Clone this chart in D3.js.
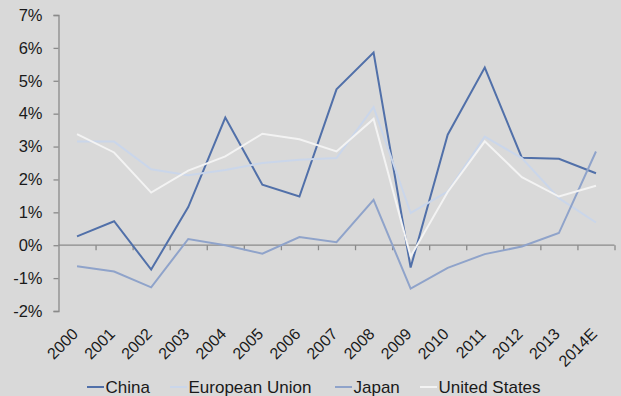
<!DOCTYPE html>
<html>
<head>
<meta charset="utf-8">
<script src="https://cdn.jsdelivr.net/npm/d3@7"></script>
<style>
  html, body { margin: 0; padding: 0; background: #d9d9d9; }
  svg { display: block; font-family: "Liberation Sans", Arial, sans-serif; }
</style>
</head>
<body>
<svg id="chart" width="621" height="396"></svg>
<script>
// Annual inflation, 2000–2014E (%)
const years = ["2000","2001","2002","2003","2004","2005","2006","2007","2008","2009","2010","2011","2012","2013","2014E"];
const china = [0.27, 0.73, -0.74, 1.16, 3.88, 1.84, 1.48, 4.74, 5.86, -0.68, 3.36, 5.40, 2.66, 2.63, 2.19];
const europeanUnion = [3.15, 3.15, 2.31, 2.13, 2.29, 2.50, 2.60, 2.65, 4.20, 0.98, 1.63, 3.30, 2.65, 1.43, 0.69];
const japan = [-0.64, -0.80, -1.28, 0.19, 0.00, -0.26, 0.25, 0.09, 1.38, -1.32, -0.69, -0.27, -0.04, 0.37, 2.85];
const unitedStates = [3.38, 2.82, 1.60, 2.27, 2.70, 3.39, 3.22, 2.85, 3.84, -0.34, 1.62, 3.16, 2.07, 1.48, 1.81];
const yTicks = [-2, -1, 0, 1, 2, 3, 4, 5, 6, 7];

const series = [
  { name: "China", values: china, color: "#5170a9" },
  { name: "European Union", values: europeanUnion, color: "#cad6ea" },
  { name: "Japan", values: japan, color: "#8fa3ca" },
  { name: "United States", values: unitedStates, color: "#f3f3f3" }
];

const svg = d3.select("#chart");
const plotLeft = 58.5, plotRight = 614.5, plotTop = 15, plotBottom = 311;

// category index -> x; each year sits in the middle of its slot
const x = d3.scaleLinear().domain([0, years.length]).range([plotLeft, plotRight]);
const y = d3.scaleLinear().domain([-2, 7]).range([plotBottom, plotTop]);

const axisColor = "#8a8a8a";

// y axis
const yAxis = svg.append("g")
  .attr("transform", `translate(${plotLeft},0)`)
  .call(d3.axisLeft(y).tickValues(yTicks).tickSize(5).tickPadding(11)
    .tickFormat(d => d + "%"));
yAxis.select(".domain").attr("stroke", axisColor).attr("stroke-width", 1.3);
yAxis.selectAll(".tick line").attr("stroke", axisColor).attr("stroke-width", 1.3);
yAxis.selectAll(".tick text")
  .attr("fill", "#1a1a1a").style("font-size", "16.5px").style("font-family", "'Liberation Sans', Arial, sans-serif");

// x axis along the zero line, ticks on slot boundaries
const xAxis = svg.append("g")
  .attr("transform", `translate(0,${y(0)})`)
  .call(d3.axisBottom(x).tickValues(d3.range(1, years.length + 1)).tickSize(5).tickFormat(""));
xAxis.select(".domain").attr("stroke", axisColor).attr("stroke-width", 1.3)
  .attr("d", `M${plotLeft},0H${plotRight}`);
xAxis.selectAll(".tick line").attr("stroke", axisColor).attr("stroke-width", 1.3);

// rotated year labels at the bottom
svg.append("g").selectAll("text")
  .data(years)
  .join("text")
  .attr("transform", (d, i) => `translate(${x(i + 0.5) + 2},${plotBottom + 24}) rotate(-45)`)
  .attr("text-anchor", "end")
  .attr("fill", "#1a1a1a")
  .style("font-size", "16px")
  .text(d => d);

// lines
const line = d3.line()
  .x((d, i) => x(i + 0.5))
  .y(d => y(d));

svg.append("g").selectAll("path")
  .data(series)
  .join("path")
  .attr("fill", "none")
  .attr("stroke", d => d.color)
  .attr("stroke-width", 2)
  .attr("stroke-linejoin", "miter")
  .attr("d", d => line(d.values));

// legend
const legendX = [87, 170, 335, 420];
const legend = svg.append("g").selectAll("g")
  .data(series)
  .join("g")
  .attr("transform", (d, i) => `translate(${legendX[i]},387)`);
legend.append("line")
  .attr("x1", 0).attr("x2", 17)
  .attr("stroke", d => d.color).attr("stroke-width", 2);
legend.append("text")
  .attr("x", 18.5)
  .attr("y", 5.5)
  .attr("fill", "#1a1a1a")
  .style("font-size", "17px")
  .text(d => d.name);
</script>
</body>
</html>
